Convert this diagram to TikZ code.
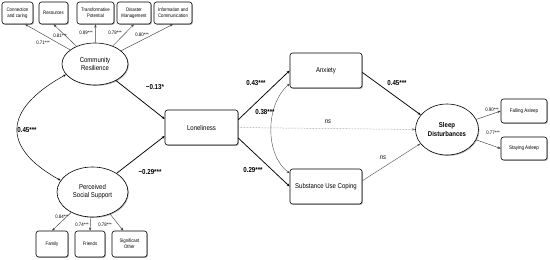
\documentclass[tikz,border=0pt]{standalone}
\usepackage{fontspec}
\setmainfont[FakeStretch=0.86]{Liberation Sans}
\usepackage{tikz}
\usetikzlibrary{arrows.meta, shapes.geometric, shadows, calc}

\tikzset{
	obs/.style={draw, rounded corners=2.5pt, fill=white, line width=0.6pt, align=center, inner sep=0pt,
		drop shadow={shadow xshift=0.9pt, shadow yshift=-0.9pt, opacity=0.6}},
	latent/.style={draw, ellipse, fill=white, line width=0.6pt, align=center, inner sep=0pt,
		drop shadow={shadow xshift=0.9pt, shadow yshift=-0.9pt, opacity=0.6}},
	itemfont/.style={font=\fontsize{5}{5.8}\selectfont},
	mainfont/.style={font=\fontsize{7}{8.2}\selectfont},
	coef/.style={font=\fontsize{7.2}{8}\selectfont\bfseries, inner sep=0pt},
	load/.style={font=\fontsize{5}{5.5}\selectfont, inner sep=0pt},
	path/.style={->, line width=0.75pt},
	loadarrow/.style={->, line width=0.45pt, black!75},
	nsarrow/.style={->, line width=0.45pt, black!65}
}

\begin{document}
\begin{tikzpicture}[x=1pt, y=-1pt, >={Stealth[length=3.2pt,width=2.4pt]}]
	\useasboundingbox (0,0) rectangle (550,260);
	
	% community resilience and its items
	\node[latent, mainfont, minimum width=66, minimum height=42] (cr) at (95,64) {Community\\Resilience};
	\node[obs, itemfont, minimum width=31, minimum height=22] (cc) at (17.5,13) {Connection\\and caring};
	\node[obs, itemfont, minimum width=29, minimum height=22] (res) at (53.5,13) {Resources};
	\node[obs, itemfont, minimum width=37, minimum height=22] (tp) at (95.5,13) {Transformative\\Potential};
	\node[obs, itemfont, minimum width=34, minimum height=22] (dm) at (134,13) {Disaster\\Management};
	\node[obs, itemfont, minimum width=38, minimum height=22] (ic) at (173,13) {Information and\\Communication};
	
	\draw[loadarrow] (cr) -- (cc.-56);
	\draw[loadarrow] (cr) -- (res.south);
	\draw[loadarrow] (cr) -- (tp.south);
	\draw[loadarrow] (cr) -- (dm.south);
	\draw[loadarrow] (cr) -- (ic.south);
	
	\node[load] (l1) at (43,43) {0.71***};
	\node[load] (l2) at (60,36) {0.81***};
	\node[load] (l3) at (86,33) {0.89***};
	\node[load] (l4) at (115,33) {0.78***};
	\node[load] (l5) at (142,35) {0.80***};
	
	% perceived social support and its items
	\node[latent, mainfont, minimum width=71, minimum height=50] (pss) at (92.5,192) {Perceived\\Social Support};
	\node[obs, itemfont, minimum width=32, minimum height=26] (fam) at (52,244) {Family};
	\node[obs, itemfont, minimum width=30, minimum height=26] (fri) at (90,244) {Friends};
	\node[obs, itemfont, minimum width=35, minimum height=26] (so) at (129.5,244) {Significant\\Other};
	
	\draw[loadarrow] (pss) -- (fam.north);
	\draw[loadarrow] (pss) -- (fri.north);
	\draw[loadarrow] (pss) -- (so.115);
	
	\node[load] (l6) at (62,217) {0.84***};
	\node[load] (l7) at (82,225) {0.74***};
	\node[load] (l8) at (105,225) {0.78***};
	
	% covariance of the two predictors
	\draw[<->, line width=0.5pt] (cr.200) .. controls (2,110) and (2,148) .. (pss.160);
	\node[coef] (c0) at (27,130) {0.45***};
	
	% mediators and outcome
	\node[obs, mainfont, minimum width=73, minimum height=35] (lon) at (201.5,127.5) {Loneliness};
	\node[obs, mainfont, minimum width=72, minimum height=35] (anx) at (326,70.5) {Anxiety};
	\node[obs, mainfont, minimum width=72, minimum height=35] (sub) at (326,186.5) {Substance Use Coping};
	\node[latent, font=\fontsize{7}{8.2}\selectfont\bfseries, minimum width=63, minimum height=51] (sd) at (447,129.5) {Sleep\\Disturbances};
	\node[obs, font=\fontsize{5.2}{6}\selectfont, minimum width=46, minimum height=24] (fa) at (524,111) {Falling Asleep};
	\node[obs, font=\fontsize{5.2}{6}\selectfont, minimum width=46, minimum height=23] (sa) at (524,148.5) {Staying Asleep};
	
	\draw[path] (cr) -- (lon.167);
	\draw[path] (pss) -- (lon.193);
	\draw[path] (lon.12) -- (anx.west);
	\draw[path] (lon.-16) -- (sub.west);
	\draw[->, line width=0.5pt, black!55, densely dotted] (lon.east) -- (sd.west);
	\draw[path] (anx.-3) -- (sd.151);
	\draw[nsarrow] (sub.9) -- (sd.208);
	\draw[<->, line width=0.4pt, black!70] (anx.200) .. controls (265,105) and (265,155) .. (sub.160);
	
	\node[coef] (c1) at (155,87) {−0.13*};
	\node[coef] (c2) at (150,172) {−0.29***};
	\node[coef] (c3) at (256,83) {0.43***};
	\node[coef] (c4) at (265,112) {0.38***};
	\node[coef] (c5) at (253,170) {0.29***};
	\node[coef, font=\fontsize{6.8}{8}\selectfont\itshape] (c6) at (328,122) {ns};
	\node[coef] (c7) at (397,83) {0.45***};
	\node[coef, font=\fontsize{6.8}{8}\selectfont\itshape] (c8) at (383,158) {ns};
	
	\draw[loadarrow] (sd) -- (fa.west);
	\draw[loadarrow] (sd) -- (sa.west);
	\node[load] (l9) at (492,110) {0.90***};
	\node[load] (l10) at (493,133) {0.77***};
\end{tikzpicture}
\end{document}
